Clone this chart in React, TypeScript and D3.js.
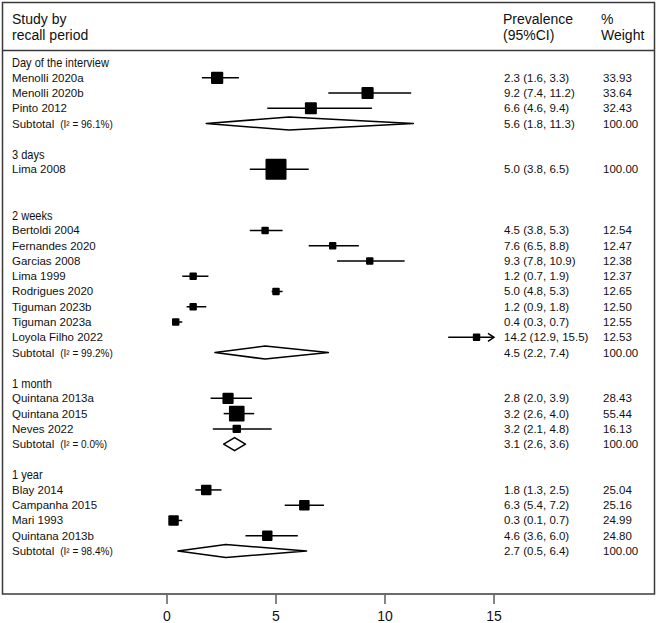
import * as d3 from 'd3';

const groupNames = ['Day of the interview', '3 days', '2 weeks', '1 month', '1 year'];

const studyNames = [
  'Menolli 2020a', 'Menolli 2020b', 'Pinto 2012',
  'Lima 2008',
  'Bertoldi 2004', 'Fernandes 2020', 'Garcias 2008', 'Lima 1999', 'Rodrigues 2020', 'Tiguman 2023b', 'Tiguman 2023a', 'Loyola Filho 2022',
  'Quintana 2013a', 'Quintana 2015', 'Neves 2022',
  'Blay 2014', 'Campanha 2015', 'Mari 1993', 'Quintana 2013b',
];
const studyGroup = [0, 0, 0, 1, 2, 2, 2, 2, 2, 2, 2, 2, 3, 3, 3, 4, 4, 4, 4];
const studyEst = [2.3, 9.2, 6.6, 5.0, 4.5, 7.6, 9.3, 1.2, 5.0, 1.2, 0.4, 14.2, 2.8, 3.2, 3.2, 1.8, 6.3, 0.3, 4.6];
const studyLo = [1.6, 7.4, 4.6, 3.8, 3.8, 6.5, 7.8, 0.7, 4.8, 0.9, 0.3, 12.9, 2.0, 2.6, 2.1, 1.3, 5.4, 0.1, 3.6];
const studyHi = [3.3, 11.2, 9.4, 6.5, 5.3, 8.8, 10.9, 1.9, 5.3, 1.8, 0.7, 15.5, 3.9, 4.0, 4.8, 2.5, 7.2, 0.7, 6.0];
const studyWeight = [33.93, 33.64, 32.43, 100.0, 12.54, 12.47, 12.38, 12.37, 12.65, 12.5, 12.55, 12.53, 28.43, 55.44, 16.13, 25.04, 25.16, 24.99, 24.8];

// subtotal per group (null = single study, not drawn)
const subEst = [5.6, null, 4.5, 3.1, 2.7];
const subLo = [1.8, null, 2.2, 2.6, 0.5];
const subHi = [11.3, null, 7.4, 3.6, 6.4];
const subI2 = ['96.1%', null, '99.2%', '0.0%', '98.4%'];

const xTicks = [0, 5, 10, 15];

const FONT = '"Liberation Sans", Arial, sans-serif';

type Row =
  | { kind: 'group'; g: number }
  | { kind: 'study'; i: number }
  | { kind: 'sub'; g: number }
  | { kind: 'blank' };

function buildRows(): Row[] {
  const rows: Row[] = [];
  groupNames.forEach((_, g) => {
    rows.push({ kind: 'group', g });
    studyNames.forEach((_, i) => {
      if (studyGroup[i] === g) rows.push({ kind: 'study', i });
    });
    rows.push({ kind: 'sub', g });
    if (g < groupNames.length - 1) rows.push({ kind: 'blank' });
  });
  return rows;
}

const fmt = (e: number, l: number, h: number) =>
  `${e.toFixed(1)} (${l.toFixed(1)}, ${h.toFixed(1)})`;

export default function App() {
  const width = 656;
  const height = 623;
  const rows = buildRows();

  const x = d3.scaleLinear().domain([0, 15]).range([167, 494]);
  const y = d3.scaleLinear().domain([0, rows.length - 1]).range([62.5, 551]);
  const boxSide = (w: number) => 2.1 * Math.sqrt(w);

  const frameBottom = 594;
  const labelX = 12;
  const valX = 504;
  const wX = 603;

  return (
    <svg
      width={width}
      height={height}
      style={{ position: 'absolute', left: 0, top: 0, background: '#fff' }}
      fontFamily={FONT}
    >
      <rect x={0} y={0} width={width} height={height} fill="#fff" />
      {/* frame */}
      <rect x={2.5} y={2.5} width={652} height={frameBottom - 2.5} fill="none" stroke="#3a3a3a" strokeWidth={1.5} />
      <line x1={2.5} x2={654.5} y1={50.5} y2={50.5} stroke="#3a3a3a" strokeWidth={1.5} />

      {/* header */}
      <g fontSize={14} fill="#111">
        <text x={labelX} y={24}>Study by</text>
        <text x={labelX} y={40}>recall period</text>
        <text x={valX - 1} y={24}>Prevalence</text>
        <text x={valX - 1} y={40}>(95%CI)</text>
        <text x={wX - 2} y={24}>%</text>
        <text x={wX - 2} y={40}>Weight</text>
      </g>

      {rows.map((r, k) => {
        const cy = y(k);
        if (r.kind === 'group') {
          // condensed group heading
          return (
            <text
              key={k}
              transform={`translate(${labelX},${cy + 4.5}) scale(0.85,1)`}
              fontSize={13}
              fill="#111"
            >
              {groupNames[r.g]}
            </text>
          );
        }
        if (r.kind === 'study') {
          const i = r.i;
          const s = boxSide(studyWeight[i]);
          const hiC = Math.min(studyHi[i], 15);
          const clipped = studyHi[i] > 15;
          return (
            <g key={k}>
              <text x={labelX} y={cy + 4} fontSize={11.5} fill="#111">{studyNames[i]}</text>
              <line x1={x(studyLo[i])} x2={x(hiC)} y1={cy} y2={cy} stroke="#000" strokeWidth={1.5} />
              {clipped && (
                <path
                  d={`M${x(hiC) - 6},${cy - 4} L${x(hiC)},${cy} L${x(hiC) - 6},${cy + 4}`}
                  fill="none"
                  stroke="#000"
                  strokeWidth={1.5}
                />
              )}
              <rect x={x(studyEst[i]) - s / 2} y={cy - s / 2} width={s} height={s} fill="#000" rx={1} />
              <text x={valX} y={cy + 4} fontSize={11.5} fill="#111">
                {fmt(studyEst[i], studyLo[i], studyHi[i])}
              </text>
              <text x={wX} y={cy + 4} fontSize={11.5} fill="#111">{studyWeight[i].toFixed(2)}</text>
            </g>
          );
        }
        if (r.kind === 'sub') {
          const g = r.g;
          const e = subEst[g];
          const l = subLo[g];
          const h = subHi[g];
          if (e === null || l === null || h === null) return null;
          const dh = 6.5;
          const d = `M${x(l)},${cy} L${x(e)},${cy - dh} L${x(h)},${cy} L${x(e)},${cy + dh} Z`;
          return (
            <g key={k}>
              <text x={labelX} y={cy + 4} fontSize={11.5} fill="#111">
                Subtotal
                <tspan dx={6} fontSize={10}>{`(I² = ${subI2[g]})`}</tspan>
              </text>
              <path d={d} fill="#fff" stroke="#000" strokeWidth={1.6} strokeLinejoin="round" />
              <text x={valX} y={cy + 4} fontSize={11.5} fill="#111">{fmt(e, l, h)}</text>
              <text x={wX} y={cy + 4} fontSize={11.5} fill="#111">100.00</text>
            </g>
          );
        }
        return null;
      })}

      {/* x axis ticks */}
      {xTicks.map((t) => (
        <g key={t}>
          <line x1={x(t)} x2={x(t)} y1={frameBottom + 1} y2={frameBottom + 10} stroke="#333" strokeWidth={1.2} />
          <text x={x(t)} y={621} fontSize={14} textAnchor="middle" fill="#111">{t}</text>
        </g>
      ))}
    </svg>
  );
}
